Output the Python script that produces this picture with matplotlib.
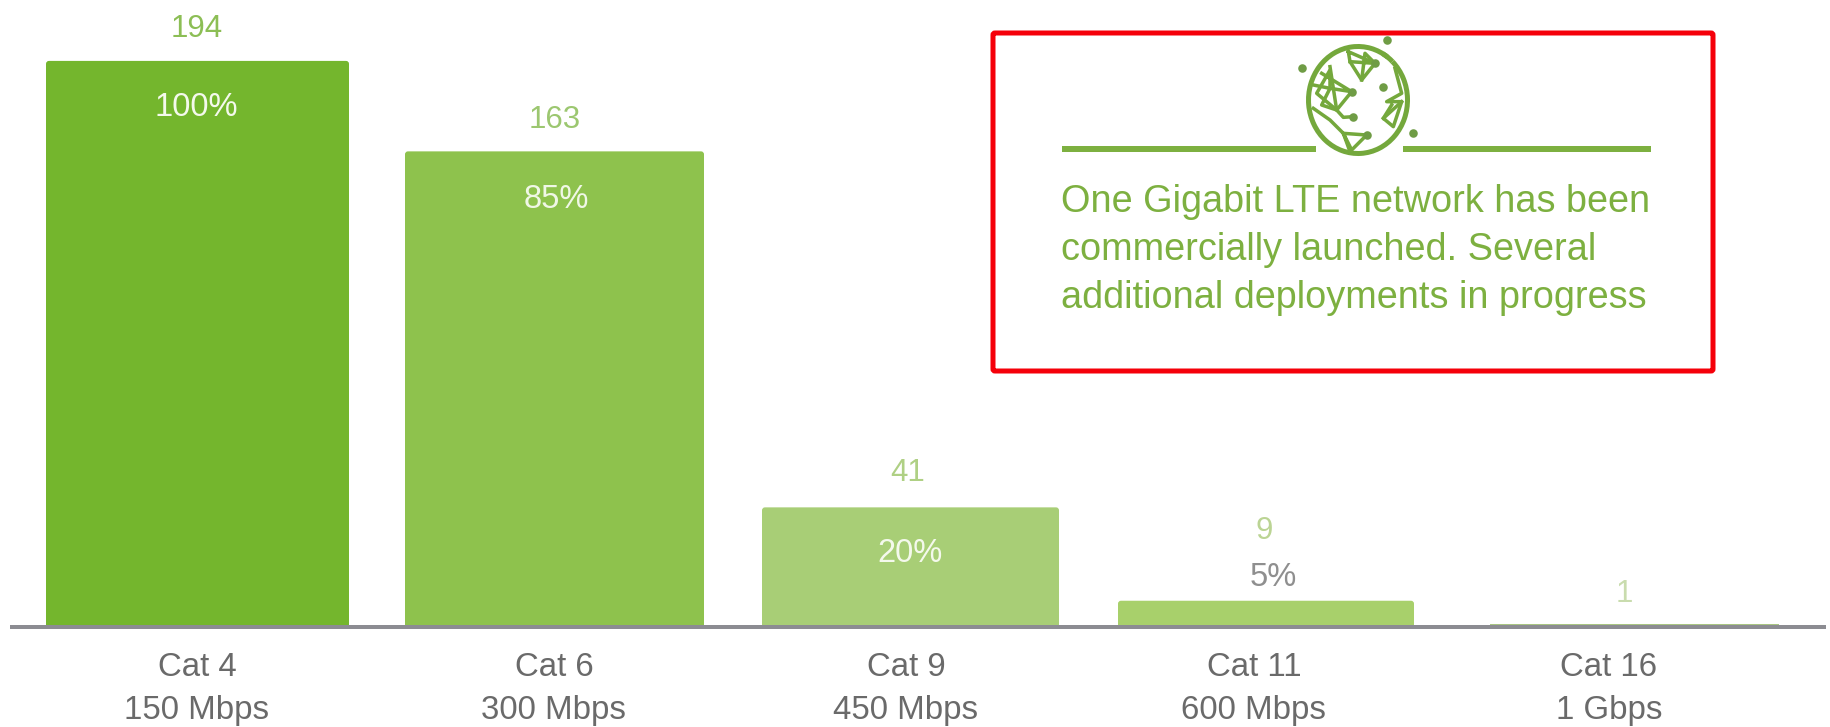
import matplotlib
matplotlib.use("Agg")
import matplotlib.pyplot as plt
from matplotlib.patches import FancyBboxPatch, Arc, Rectangle

plt.rcParams["font.family"] = ["Liberation Sans", "DejaVu Sans"]

# Data
categories = ["Cat 4", "Cat 6", "Cat 9", "Cat 11", "Cat 16"]
speeds = ["150 Mbps", "300 Mbps", "450 Mbps", "600 Mbps", "1 Gbps"]
network_counts = [194, 163, 41, 9, 1]
share_labels = ["100%", "85%", "20%", "5%", ""]
callout_lines = [
    "One Gigabit LTE network has been",
    "commercially launched. Several",
    "additional deployments in progress",
]

# Layout and styling (figure pixels, measured from the left edge)
W, H = 1831, 727
bar_lefts = [46, 405, 762, 1118, 1490]
bar_rights = [349, 704, 1059, 1414, 1779]
count_centers = [197, 555, 908, 1264, 1624]
share_centers = [196, 556, 910, 1273, 1273]
cat_centers = [197, 554, 906, 1254, 1609]
bar_colors = ["#74B62D", "#8EC24D", "#A8CE76", "#A8D06B", "#A9C583"]
count_colors = ["#8CBE55", "#9CC770", "#AFD084", "#BBD494", "#C9DCAE"]
share_colors = ["#F4F9EC", "#F0F7E6", "#F4F9EC", "#8F8F8F", "#8F8F8F"]
count_offsets = [31.5, 31.5, 34.5, 70, 30]  # px above the bar top
share_offsets = [-47, -48, -46, 23, 0]      # px relative to the bar top
BASE_Y = 627
PX_PER_NET = 2.918
GREEN = "#7DB040"
GREY = "#6A6A6A"
PT = 0.72   # points per pixel at 100 dpi

fig = plt.figure(figsize=(W / 100, H / 100), dpi=100, facecolor="white")

# Value axes: y is in networks, zero on the baseline
ax = fig.add_axes([0, 0, 1, 1])
ax.set_xlim(0, W)
ax.set_ylim(-(H - BASE_Y) / PX_PER_NET, BASE_Y / PX_PER_NET)
ax.axis("off")

for i, n in enumerate(network_counts):
    left, right = bar_lefts[i], bar_rights[i]
    ax.add_patch(FancyBboxPatch(
        (left, 0), right - left, n,
        boxstyle="round,pad=0,rounding_size=3",
        mutation_aspect=1 / PX_PER_NET,
        fc=bar_colors[i], ec="none", zorder=2))
    ax.add_patch(Rectangle((left, 0), right - left, min(n, 1),
                           fc=bar_colors[i], ec="none", zorder=2))
    ax.annotate(str(n), (count_centers[i], n), xytext=(0, count_offsets[i] * PT),
                textcoords="offset points", ha="center", va="center",
                fontsize=22.5, color=count_colors[i], zorder=4)
    if share_labels[i]:
        ax.annotate(share_labels[i], (share_centers[i], n),
                    xytext=(0, share_offsets[i] * PT),
                    textcoords="offset points", ha="center", va="center",
                    fontsize=23.5, color=share_colors[i], zorder=4)

# Baseline over the feet of the bars
ax.plot([10, 1826], [0, 0], color="#8C8C92", lw=4 * PT, solid_capstyle="butt", zorder=3)

# Overlay in figure pixels for the axis captions and the callout
ov = fig.add_axes([0, 0, 1, 1], facecolor="none")
ov.set_xlim(0, W)
ov.set_ylim(H, 0)
ov.axis("off")

for i in range(len(categories)):
    ov.text(cat_centers[i], 667, categories[i], ha="center", va="center",
            fontsize=23.8, color=GREY)
    ov.text(cat_centers[i], 711, speeds[i], ha="center", va="center",
            fontsize=23.8, color=GREY)

# Callout frame
ov.add_patch(FancyBboxPatch((993, 33), 720, 338,
                            boxstyle="round,pad=0,rounding_size=2",
                            fc="white", ec="#F5000A", lw=5 * PT, zorder=1))

for y, line in zip([202, 250, 298], callout_lines):
    ov.text(1061, y, line, ha="left", va="center", fontsize=27.3,
            color=GREEN, zorder=3)

# Rule broken by the globe icon
ov.plot([1062, 1316], [149, 149], color=GREEN, lw=6 * PT, solid_capstyle="butt", zorder=3)
ov.plot([1403, 1651], [149, 149], color=GREEN, lw=6 * PT, solid_capstyle="butt", zorder=3)

# Globe icon
ICON = "#74A83C"
ov.add_patch(Arc((1358, 100), 99, 107, theta1=-48, theta2=305,
                 ec=ICON, lw=5 * PT, zorder=3))
ov.add_patch(Arc((1358, 100), 99, 107, theta1=-62, theta2=-48,
                 ec=ICON, lw=5 * PT, zorder=3))

def to_fig(points):
    """Icon outline points, given on a 3x grid anchored at the icon's corner."""
    return [1280 + p[0] / 3 for p in points], [30 + p[1] / 3 for p in points]

land = [
    [(125, 130), (215, 185), (170, 240), (110, 190), (150, 120), (150, 175), (215, 185)],
    [(100, 165), (150, 175), (125, 225), (170, 240), (150, 110)],
    [(205, 65), (285, 100), (245, 150), (210, 95), (205, 65)],
    [(210, 95), (285, 100), (255, 70), (245, 150)],
    [(345, 115), (365, 190), (320, 215), (365, 215), (340, 290), (310, 265), (335, 225)],
    [(365, 215), (310, 265)],
    [(100, 235), (150, 270), (190, 310), (260, 315), (215, 360), (190, 310), (210, 365)],
    [(170, 240), (190, 262), (220, 260)],
]
for seg in land:
    xs, ys = to_fig(seg)
    ov.plot(xs, ys, color=ICON, lw=3.5 * PT, solid_joinstyle="round", zorder=3)

dots = [(65, 115), (320, 30), (310, 172), (400, 310), (220, 260), (215, 185), (285, 100), (260, 315)]
xs, ys = to_fig(dots)
ov.scatter(xs, ys, s=38, color="#6F9C45", linewidths=0, zorder=4)

fig.savefig("out.png", dpi=100, facecolor="white")
